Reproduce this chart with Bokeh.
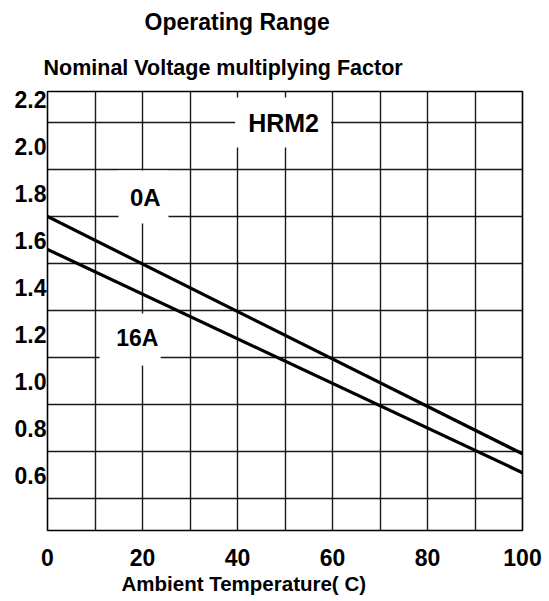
from bokeh.plotting import figure
from bokeh.models import FixedTicker, Title, Label, Range1d, PrintfTickFormatter
from bokeh.embed import file_html
from bokeh.resources import INLINE

# ---- data ----
temps = [0, 100]                      # Ambient temperature (C)
factor_0a = [1.70, 0.69]              # 0A curve
factor_16a = [1.56, 0.61]             # 16A curve
x_ticks = [0, 20, 40, 60, 80, 100]
x_grid = [10, 20, 30, 40, 50, 60, 70, 80, 90]
y_ticks = [0.6, 0.8, 1.0, 1.2, 1.4, 1.6, 1.8, 2.0, 2.2]
y_grid = [0.5, 0.7, 0.9, 1.1, 1.3, 1.5, 1.7, 1.9, 2.1]

FONT = "Liberation Sans"

p = figure(frame_width=475, frame_height=439,
           min_border_left=47, min_border_right=22,
           min_border_top=91, min_border_bottom=60,
           x_range=Range1d(0, 100), y_range=Range1d(0.364, 2.232),
           output_backend="svg", toolbar_location=None, title=None)

p.background_fill_color = "white"
p.border_fill_color = "white"
p.outline_line_color = "black"
p.outline_line_width = 1.6

p.xgrid.ticker = FixedTicker(ticks=x_grid)
p.ygrid.ticker = FixedTicker(ticks=y_grid)
for g in (p.xgrid, p.ygrid):
    g.grid_line_color = "black"
    g.grid_line_width = 1.4
    g.grid_line_alpha = 0.9

for ax in (p.xaxis, p.yaxis):
    ax.axis_line_color = None
    ax.major_tick_line_color = None
    ax.minor_tick_line_color = None
    ax.major_tick_out = 0
    ax.major_tick_in = 0
    ax.major_label_text_font = FONT
    ax.major_label_text_font_size = "23px"
    ax.major_label_text_font_style = "bold"
    ax.major_label_text_color = "black"

p.xaxis.ticker = FixedTicker(ticks=x_ticks)
p.yaxis.ticker = FixedTicker(ticks=y_ticks)
p.yaxis.formatter = PrintfTickFormatter(format="%.1f")
p.yaxis.major_label_standoff = 1
p.xaxis.major_label_standoff = 18

# white masks behind the in-plot labels
p.rect(x=[49.6, 20.2, 17.4], y=[2.1, 1.783, 1.177],
       width=[96, 50, 61], height=[50, 53, 52],
       width_units="screen", height_units="screen",
       fill_color="white", line_color=None)

p.line(temps, factor_0a, line_color="black", line_width=3.2)
p.line(temps, factor_16a, line_color="black", line_width=3.2)

for txt, lx, ly, size in [("HRM2", 49.7, 2.096, "25px"),
                          ("0A", 20.6, 1.781, "24px"),
                          ("16A", 18.9, 1.185, "23px")]:
    p.add_layout(Label(x=lx, y=ly, text=txt, text_align="center",
                       text_baseline="middle", text_font=FONT,
                       text_font_size=size, text_font_style="bold",
                       text_color="black"))

p.add_layout(Title(text="Nominal Voltage multiplying Factor", align="left",
                   offset=-4, text_font=FONT, text_font_size="21.5px",
                   text_font_style="bold", text_color="black",
                   standoff=23), "above")
p.add_layout(Title(text="Operating Range", align="left", offset=97,
                   text_font=FONT, text_font_size="23px",
                   text_font_style="bold", text_color="black",
                   vertical_align="top", standoff=12), "above")
p.add_layout(Title(text="Ambient Temperature( C)", align="left", offset=74,
                   text_font=FONT, text_font_size="20.5px",
                   text_font_style="bold", text_color="black",
                   standoff=2), "below")

open("out.html", "w").write(file_html(p, INLINE))
